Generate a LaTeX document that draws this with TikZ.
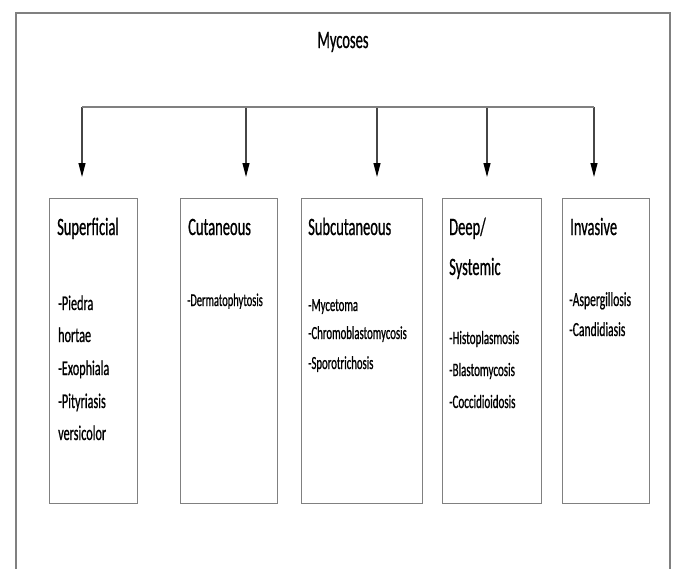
\documentclass[tikz,border=0pt]{standalone}
\usepackage{fontspec}
\setmainfont{Carlito}[FakeStretch=0.58, FakeBold=0.7]
\usepackage{xcolor}
\usetikzlibrary{arrows.meta}
\definecolor{frm}{RGB}{128, 128, 128}
\definecolor{lin}{RGB}{70, 70, 70}

\tikzset{
  box/.style={draw=frm, line width=1.4pt, anchor=north west, minimum height=305pt, inner sep=0pt},
  ttl/.style={anchor=base west, inner sep=0pt},
  itm/.style={anchor=base west, inner sep=0pt, font=\fontsize{#1}{#1}\selectfont},
  arr/.style={draw=lin, line width=1.1pt, -{Triangle[length=14pt, width=7pt, black]}},
  bar/.style={draw=frm, line width=2.6pt}
}

\begin{document}
\begin{tikzpicture}[x=1pt, y=-1pt, font=\fontsize{25}{30}\selectfont]
  \useasboundingbox (0,0) rectangle (676,568);
  \draw[frm, line width=1.5pt] (16,590) -- (16,13) -- (670,13) -- (670,590);
  \draw[frm, line width=2.6pt] (16,13) -- (670,13);

  \node[ttl, anchor=base] (myc) at (343,48) {Mycoses};

  \foreach \x [count=\i] in {82,246,377,487,594} {
    \coordinate (b\i) at (\x,107);
    \coordinate (t\i) at (\x,177);
    \draw[arr] (b\i) -- (t\i);
  }
  \draw[bar] (b1) -- (b5);

  \node[box, minimum width=88pt] (sup) at (49,198) {};
  \node[box, minimum width=97pt] (cut) at (180,198) {};
  \node[box, minimum width=121pt] (sub) at (301,198) {};
  \node[box, minimum width=99pt] (deep) at (442,198) {};
  \node[box, minimum width=87pt] (inv) at (562,198) {};

  \node[ttl] (supt) at (57,235) {Superficial};
  \node[ttl] (cutt) at (188,235) {Cutaneous};
  \node[ttl] (subt) at (308,235) {Subcutaneous};
  \node[ttl] (deept) at (449,235) {Deep/};
  \node[ttl] (deeps) at (449,275) {Systemic};
  \node[ttl] (invt) at (570,235) {Invasive};

  \foreach \t/\y [count=\i] in {-Piedra/310, hortae/342, -Exophiala/375, -Pityriasis/408, versicolor/440}
    \node[itm=21] (supi\i) at (58,\y) {\t};
  \node[itm=18] (cuti1) at (187,306) {-Dermatophytosis};
  \foreach \t/\y [count=\i] in {-Mycetoma/311, -Chromoblastomycosis/339, -Sporotrichosis/369}
    \node[itm=18.5] (subi\i) at (308,\y) {\t};
  \foreach \t/\y [count=\i] in {-Histoplasmosis/344, -Blastomycosis/376, -Coccidioidosis/408}
    \node[itm=19] (deepi\i) at (449,\y) {\t};
  \foreach \t/\y [count=\i] in {-Aspergillosis/306, -Candidiasis/336}
    \node[itm=20] (invi\i) at (569,\y) {\t};
\end{tikzpicture}
\end{document}
